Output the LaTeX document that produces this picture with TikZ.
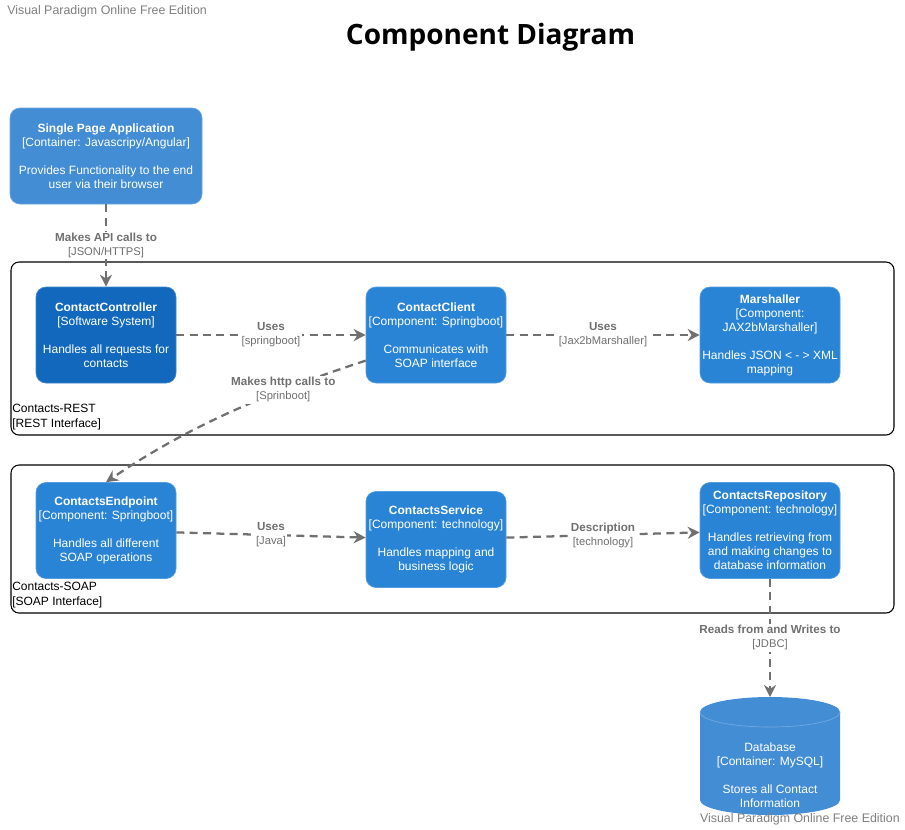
\documentclass[tikz,border=0pt]{standalone}
\usepackage{fontspec}
\setmainfont{Liberation Sans}
\newfontfamily\titlefont{Open Sans}
\usetikzlibrary{arrows.meta}

\definecolor{containerblue}{HTML}{438DD5}
\definecolor{systemblue}{HTML}{1168BD}
\definecolor{compblue}{HTML}{2A84D6}
\definecolor{relgray}{HTML}{707070}
\definecolor{markgray}{HTML}{7F7F7F}

\tikzset{
  box/.style={rounded corners=7.5pt, fill=#1, draw=#1!80!white, line width=0.5pt,
    text=white, align=center, minimum width=105pt, minimum height=72pt, inner sep=1pt,
    font=\fontsize{9}{10.5}\selectfont},
  rel/.style={relgray, line width=1.7pt, dash pattern=on 6pt off 4pt,
    -{Stealth[length=9pt,width=9pt]}},
  rellabel/.style={fill=white, text=relgray, align=center, inner sep=1pt,
    font=\fontsize{8.75}{10.5}\selectfont},
  boundary/.style={draw=black, line width=0.8pt, rounded corners=6pt},
  boundlabel/.style={anchor=west, align=left, inner sep=0pt,
    font=\fontsize{9}{11.25}\selectfont},
  watermark/.style={text=markgray, inner sep=0pt, font=\fontsize{9.3}{10}\selectfont},
}
\newcommand{\tech}[1]{{\fontsize{8.4}{9}\selectfont[#1]}}

\begin{document}
\begin{tikzpicture}[x=0.75pt, y=-0.75pt]
\useasboundingbox (0,0) rectangle (905,829);

\node[watermark, anchor=west] (vptop) at (7,11) {Visual Paradigm Online Free Edition};
\node[font=\titlefont\bfseries\fontsize{21}{25}\selectfont] (title) at (490.5,37.5) {Component Diagram};

% boundaries
\draw[boundary] (11,262) rectangle (894,435);
\node[boundlabel] (restlabel) at (12,417.5) {Contacts-REST\\{[REST Interface]}};
\draw[boundary] (11,465) rectangle (894,613);
\node[boundlabel] (soaplabel) at (12,595.5) {Contacts-SOAP\\{[SOAP Interface]}};

% elements
\node[box=containerblue, minimum width=144pt] (spa) at (106,156)
  {\textbf{Single Page Application}\\{[Container: Javascripy/Angular]}\\[10.5pt]Provides Functionality to the end\\user via their browser};
\node[box=systemblue] (controller) at (106,335)
  {\textbf{ContactController}\\{[Software System]}\\[10.5pt]Handles all requests for\\contacts};
\node[box=compblue] (client) at (436,335)
  {\textbf{ContactClient}\\{[Component: Springboot]}\\[10.5pt]Communicates with\\SOAP interface};
\node[box=compblue] (marshaller) at (770,335)
  {\textbf{Marshaller}\\{[Component:}\\JAX2bMarshaller]\\[10.5pt]Handles JSON < - > XML\\mapping};
\node[box=compblue] (endpoint) at (106,530.5)
  {\textbf{ContactsEndpoint}\\{[Component: Springboot]}\\[10.5pt]Handles all different\\SOAP operations};
\node[box=compblue] (service) at (436,539.5)
  {\textbf{ContactsService}\\{[Component: technology]}\\[10.5pt]Handles mapping and\\business logic};
\node[box=compblue] (repository) at (770,530.5)
  {\textbf{ContactsRepository}\\{[Component: technology]}\\[10.5pt]Handles retrieving from\\and making changes to\\database information};

% database cylinder
\fill[containerblue] (700,712) -- (700,800) arc[start angle=180, end angle=360, x radius=52.5pt, y radius=11.25pt]
  -- (840,712) arc[start angle=0, end angle=180, x radius=52.5pt, y radius=11.25pt] -- cycle;
\draw[containerblue!75!white, line width=0.5pt] (700,712) arc[start angle=180, end angle=360, x radius=52.5pt, y radius=11.25pt];
\coordinate (dbtop) at (770,697);
\node[text=white, align=center, font=\fontsize{9}{10.5}\selectfont] (db) at (770,775)
  {Database\\{[Container: MySQL]}\\[10.5pt]Stores all Contact\\Information};

\node[watermark, anchor=east] (vpbottom) at (900,819) {Visual Paradigm Online Free Edition};

% relations
\draw[rel] (spa) -- (controller) node[rellabel, midway] {\textbf{Makes API calls to}\\\tech{JSON/HTTPS}};
\draw[rel] (controller) -- (client) node[rellabel, midway] {\textbf{Uses}\\\tech{springboot}};
\draw[rel] (client) -- (marshaller) node[rellabel, midway] {\textbf{Uses}\\\tech{Jax2bMarshaller}};
\draw[rel] (client.200) .. controls (270,392) and (190,425) .. (endpoint.north)
  node[rellabel, pos=0.3] {\textbf{Makes http calls to}\\\tech{Sprinboot}};
\draw[rel] (endpoint) -- (service) node[rellabel, midway] {\textbf{Uses}\\\tech{Java}};
\draw[rel] (service) -- (repository) node[rellabel, midway] {\textbf{Description}\\\tech{technology}};
\draw[rel] (repository) -- (dbtop) node[rellabel, midway] {\textbf{Reads from and Writes to}\\\tech{JDBC}};
\end{tikzpicture}
\end{document}
